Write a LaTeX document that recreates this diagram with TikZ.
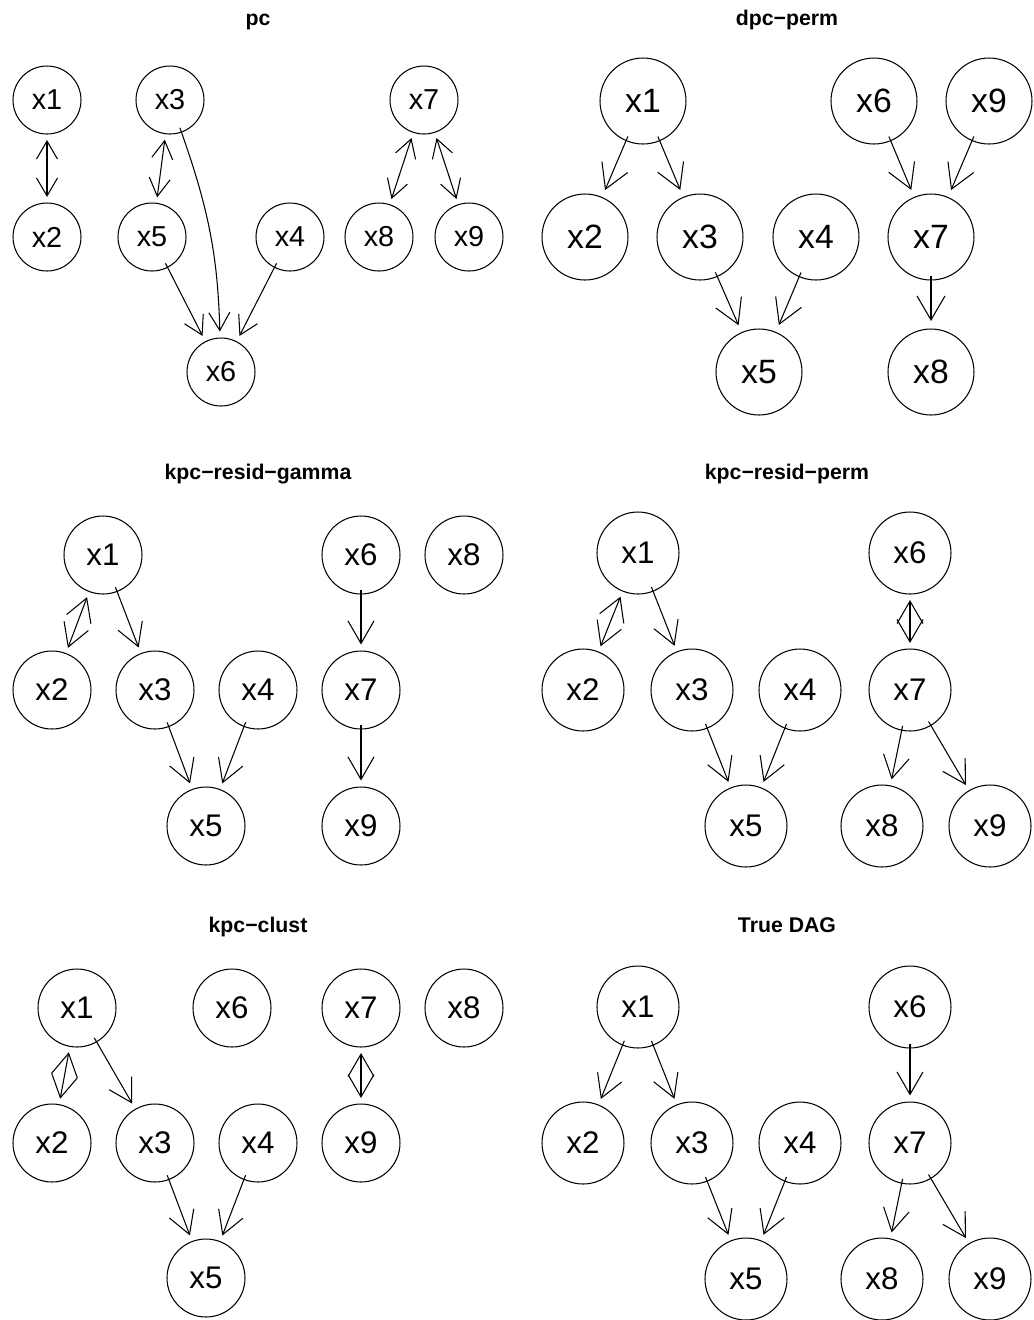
\documentclass[tikz,border=0pt]{standalone}
\usepackage{fontspec}
\setmainfont{Liberation Sans}
\usetikzlibrary{arrows.meta}

\begin{document}
\begin{tikzpicture}[
  x=0.02cm, y=-0.02cm,
  var/.style={draw, circle, line width=0.6pt, inner sep=0pt},
  causal/.style={->, line width=0.6pt, shorten >=0.12cm, shorten <=-0.1cm},
  bidir/.style={<->, line width=0.6pt, shorten >=0.11cm, shorten <=0.11cm},
  title/.style={anchor=base, font=\fontsize{12.1}{14}\selectfont\bfseries},
]
  \useasboundingbox (0,0) rectangle (1034,1320);

  % pc
  \begin{scope}[var/.append style={minimum size=1.36cm, font=\fontsize{16.4}{18}\selectfont},
                >={Straight Barb[length=0.36cm, width=0.42cm]}]
    \node[title] at (258,25) {pc};
    \node[var] (pcx1) at (47,100) {x1};
    \node[var] (pcx3) at (170,100) {x3};
    \node[var] (pcx7) at (424,100) {x7};
    \node[var] (pcx2) at (47,237) {x2};
    \node[var] (pcx5) at (152,237) {x5};
    \node[var] (pcx4) at (290,237) {x4};
    \node[var] (pcx8) at (379,237) {x8};
    \node[var] (pcx9) at (469,237) {x9};
    \node[var] (pcx6) at (221,372) {x6};
    \draw[bidir] (pcx1) -- (pcx2);
    \draw[bidir] (pcx3) -- (pcx5);
    \draw[causal] (pcx3) to[bend left=9] (pcx6);
    \draw[causal] (pcx5) -- (pcx6);
    \draw[causal] (pcx4) -- (pcx6);
    \draw[bidir] (pcx7) -- (pcx8);
    \draw[bidir] (pcx7) -- (pcx9);
  \end{scope}

  % dpc-perm
  \begin{scope}[var/.append style={minimum size=1.72cm, font=\fontsize{19.2}{21}\selectfont},
                >={Straight Barb[length=0.48cm, width=0.56cm]},
                causal/.append style={shorten >=0.15cm}]
    \node[title] at (787,25) {dpc−perm};
    \node[var] (dpx1) at (643,101) {x1};
    \node[var] (dpx6) at (874,101) {x6};
    \node[var] (dpx9) at (989,101) {x9};
    \node[var] (dpx2) at (585,237) {x2};
    \node[var] (dpx3) at (700,237) {x3};
    \node[var] (dpx4) at (816,237) {x4};
    \node[var] (dpx7) at (931,237) {x7};
    \node[var] (dpx5) at (759,372) {x5};
    \node[var] (dpx8) at (931,372) {x8};
    \draw[causal] (dpx1) -- (dpx2);
    \draw[causal] (dpx1) -- (dpx3);
    \draw[causal] (dpx3) -- (dpx5);
    \draw[causal] (dpx4) -- (dpx5);
    \draw[causal] (dpx6) -- (dpx7);
    \draw[causal] (dpx9) -- (dpx7);
    \draw[causal] (dpx7) -- (dpx8);
  \end{scope}

  % kpc-resid-gamma
  \begin{scope}[var/.append style={minimum size=1.56cm, font=\fontsize{17.8}{19}\selectfont},
                >={Straight Barb[length=0.45cm, width=0.52cm]}]
    \node[title] at (258,479) {kpc−resid−gamma};
    \node[var] (rgx1) at (103,555) {x1};
    \node[var] (rgx6) at (361,555) {x6};
    \node[var] (rgx8) at (464,555) {x8};
    \node[var] (rgx2) at (52,690) {x2};
    \node[var] (rgx3) at (155,690) {x3};
    \node[var] (rgx4) at (258,690) {x4};
    \node[var] (rgx7) at (361,690) {x7};
    \node[var] (rgx5) at (206,826) {x5};
    \node[var] (rgx9) at (361,826) {x9};
    \draw[bidir] (rgx1) -- (rgx2);
    \draw[causal] (rgx1) -- (rgx3);
    \draw[causal] (rgx3) -- (rgx5);
    \draw[causal] (rgx4) -- (rgx5);
    \draw[causal] (rgx6) -- (rgx7);
    \draw[causal] (rgx7) -- (rgx9);
  \end{scope}

  % kpc-resid-perm
  \begin{scope}[var/.append style={minimum size=1.64cm, font=\fontsize{17.8}{19}\selectfont},
                >={Straight Barb[length=0.45cm, width=0.52cm]}]
    \node[title] at (787,479) {kpc−resid−perm};
    \node[var] (rpx1) at (638,553) {x1};
    \node[var] (rpx6) at (910,553) {x6};
    \node[var] (rpx2) at (583,690) {x2};
    \node[var] (rpx3) at (692,690) {x3};
    \node[var] (rpx4) at (800,690) {x4};
    \node[var] (rpx7) at (910,690) {x7};
    \node[var] (rpx5) at (746,826) {x5};
    \node[var] (rpx8) at (882,826) {x8};
    \node[var] (rpx9) at (990,826) {x9};
    \draw[bidir] (rpx1) -- (rpx2);
    \draw[causal] (rpx1) -- (rpx3);
    \draw[causal] (rpx3) -- (rpx5);
    \draw[causal] (rpx4) -- (rpx5);
    \draw[bidir] (rpx6) -- (rpx7);
    \draw[causal] (rpx7) -- (rpx8);
    \draw[causal] (rpx7) -- (rpx9);
  \end{scope}

  % kpc-clust
  \begin{scope}[var/.append style={minimum size=1.56cm, font=\fontsize{17.8}{19}\selectfont},
                >={Straight Barb[length=0.45cm, width=0.52cm]}]
    \node[title] at (258,932) {kpc−clust};
    \node[var] (kcx1) at (77,1008) {x1};
    \node[var] (kcx6) at (232,1008) {x6};
    \node[var] (kcx7) at (361,1008) {x7};
    \node[var] (kcx8) at (464,1008) {x8};
    \node[var] (kcx2) at (52,1143) {x2};
    \node[var] (kcx3) at (155,1143) {x3};
    \node[var] (kcx4) at (258,1143) {x4};
    \node[var] (kcx9) at (361,1143) {x9};
    \node[var] (kcx5) at (206,1278) {x5};
    \draw[bidir] (kcx1) -- (kcx2);
    \draw[causal] (kcx1) -- (kcx3);
    \draw[causal] (kcx3) -- (kcx5);
    \draw[causal] (kcx4) -- (kcx5);
    \draw[bidir] (kcx7) -- (kcx9);
  \end{scope}

  % True DAG
  \begin{scope}[var/.append style={minimum size=1.64cm, font=\fontsize{17.8}{19}\selectfont},
                >={Straight Barb[length=0.45cm, width=0.52cm]}]
    \node[title] at (787,932) {True DAG};
    \node[var] (tdx1) at (638,1007) {x1};
    \node[var] (tdx6) at (910,1007) {x6};
    \node[var] (tdx2) at (583,1143) {x2};
    \node[var] (tdx3) at (692,1143) {x3};
    \node[var] (tdx4) at (800,1143) {x4};
    \node[var] (tdx7) at (910,1143) {x7};
    \node[var] (tdx5) at (746,1279) {x5};
    \node[var] (tdx8) at (882,1279) {x8};
    \node[var] (tdx9) at (990,1279) {x9};
    \draw[causal] (tdx1) -- (tdx2);
    \draw[causal] (tdx1) -- (tdx3);
    \draw[causal] (tdx3) -- (tdx5);
    \draw[causal] (tdx4) -- (tdx5);
    \draw[causal] (tdx6) -- (tdx7);
    \draw[causal] (tdx7) -- (tdx8);
    \draw[causal] (tdx7) -- (tdx9);
  \end{scope}
\end{tikzpicture}
\end{document}
